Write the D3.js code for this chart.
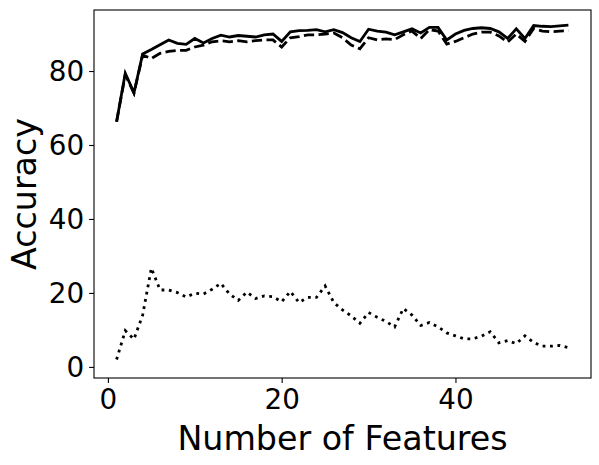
<!DOCTYPE html>
<html>
<head>
<meta charset="utf-8">
<script src="https://cdn.jsdelivr.net/npm/d3@7"></script>
<style>
  body { margin: 0; background: #fff; }
  text { font-family: "DejaVu Sans", sans-serif; fill: #000; }
</style>
</head>
<body>
<div id="chart"></div>
<script>
// number of features on the x axis
var features = d3.range(1, 54);

// solid line
var accSolid = [66.3, 79.4, 74.1, 84.6, 85.8, 87.1, 88.4, 87.5, 87.2, 88.8,
  87.6, 88.8, 89.7, 89.2, 89.6, 89.4, 89.2, 89.8, 90.0, 88.0,
  90.6, 90.9, 91.0, 91.2, 90.6, 91.2, 90.4, 89.0, 88.0, 91.3,
  90.8, 90.5, 89.8, 90.6, 91.4, 90.3, 91.8, 91.8, 88.4, 90.0,
  91.0, 91.5, 91.7, 91.5, 90.6, 88.8, 91.4, 88.8, 92.3, 92.1,
  92.0, 92.2, 92.4];

// dashed line
var accDashed = [66.3, 79.0, 74.0, 84.3, 83.4, 84.8, 85.3, 85.6, 85.6, 86.5,
  87.0, 87.9, 88.2, 87.9, 88.2, 87.9, 88.2, 88.4, 88.4, 86.5,
  89.0, 89.3, 89.8, 89.8, 90.0, 90.3, 89.0, 87.0, 86.0, 89.0,
  88.4, 88.7, 88.5, 89.8, 90.8, 88.8, 91.2, 90.8, 87.3, 88.0,
  89.0, 90.0, 90.5, 90.5, 89.5, 87.8, 90.0, 88.0, 91.5, 90.8,
  90.6, 90.8, 90.9];

// dotted line
var accDotted = [2.0, 9.8, 7.5, 14.0, 26.7, 20.8, 20.8, 20.1, 18.9, 19.9,
  19.7, 21.0, 22.6, 19.7, 18.0, 20.2, 18.5, 19.2, 19.0, 17.6,
  20.4, 17.4, 18.8, 18.8, 21.9, 17.4, 15.4, 13.8, 11.8, 14.7,
  13.4, 12.3, 10.8, 15.8, 14.0, 11.2, 12.0, 10.8, 9.2, 8.4,
  7.6, 7.6, 8.3, 9.5, 6.5, 7.1, 6.3, 8.4, 6.6, 5.6,
  5.6, 5.8, 5.2];

var xTicks = [0, 20, 40];
var yTicks = [0, 20, 40, 60, 80];

var W = 599, H = 465;
var margin = { top: 10, right: 8, bottom: 87, left: 94 };
var width = W - margin.left - margin.right;
var height = H - margin.top - margin.bottom;

var svg = d3.select("#chart").append("svg")
    .attr("width", W)
    .attr("height", H);

var g = svg.append("g")
    .attr("transform", "translate(" + margin.left + "," + margin.top + ")");

var x = d3.scaleLinear().domain([-1.6, 55.6]).range([0, width]);
var y = d3.scaleLinear().domain([-3.0, 96.5]).range([height, 0]);

var series = [
  { values: accSolid, dash: null },
  { values: accDashed, dash: "10.3,4.4" },
  { values: accDotted, dash: "2.8,4.6" }
];

var line = d3.line()
    .x(function(d, i) { return x(features[i]); })
    .y(function(d) { return y(d); });

g.selectAll("path.series")
    .data(series)
  .enter().append("path")
    .attr("class", "series")
    .attr("d", function(d) { return line(d.values); })
    .attr("fill", "none")
    .attr("stroke", "#000")
    .attr("stroke-width", 2.8)
    .attr("stroke-linejoin", "miter")
    .attr("stroke-linecap", "butt")
    .attr("stroke-dasharray", function(d) { return d.dash; });

// axes
var xAxis = d3.axisBottom(x).tickValues(xTicks).tickSize(4.9).tickPadding(4.9);
var yAxis = d3.axisLeft(y).tickValues(yTicks).tickSize(4.9).tickPadding(4.9);

var gx = g.append("g")
    .attr("transform", "translate(0," + height + ")")
    .call(xAxis);
var gy = g.append("g").call(yAxis);

[gx, gy].forEach(function(a) {
  a.select(".domain").remove();
  a.selectAll("line").attr("stroke", "#000").attr("stroke-width", 1.1);
  a.selectAll("text").style("font-size", "27.8px").attr("font-family", null);
});
gx.selectAll("text").attr("dy", "0.76em");
gy.selectAll("text").attr("dy", "0.35em");

// frame
g.append("rect")
    .attr("width", width)
    .attr("height", height)
    .attr("fill", "none")
    .attr("stroke", "#000")
    .attr("stroke-width", 1.1);

// labels
svg.append("text")
    .attr("x", margin.left + width / 2)
    .attr("y", 450)
    .attr("text-anchor", "middle")
    .style("font-size", "33.3px")
    .text("Number of Features");

svg.append("text")
    .attr("transform", "translate(36," + (margin.top + height / 2) + ") rotate(-90)")
    .attr("text-anchor", "middle")
    .style("font-size", "33.3px")
    .text("Accuracy");
</script>
</body>
</html>
